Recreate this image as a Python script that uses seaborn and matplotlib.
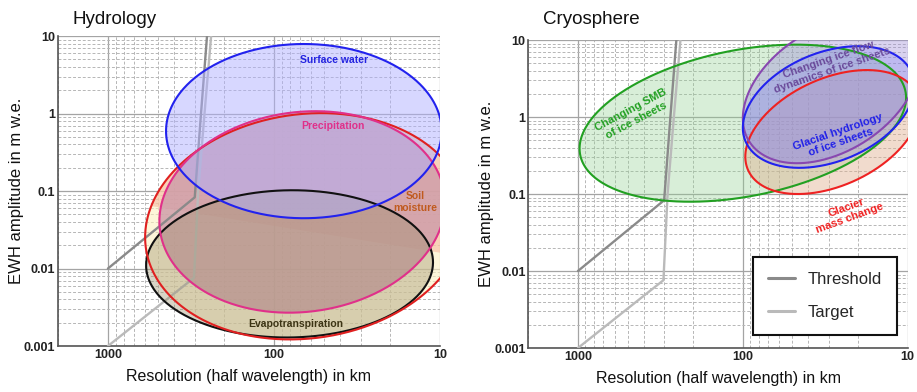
import numpy as np
import pandas as pd
import matplotlib
matplotlib.use("Agg")
import matplotlib.pyplot as plt
import seaborn as sns
from matplotlib.ticker import LogLocator, NullFormatter, FixedLocator, FixedFormatter
from matplotlib.patches import Polygon

# ---------------- data ----------------
x_ticks = [1000, 100, 10]
x_tick_labels = ["1000", "100", "10"]
y_ticks = [0.001, 0.01, 0.1, 1, 10]
y_tick_labels = ["0.001", "0.01", "0.1", "1", "10"]

threshold_x = [1000, 300, 275, 253]
threshold_y = [0.01, 0.083, 1, 10]
target_x = [1000, 303, 286, 262, 239]
target_y = [0.001, 0.0076, 0.1, 1, 10]

# ellipses in log10 space: [centre log x, centre log y, offset to right vertex (dx, dy), vertical half-extent]
surface_water = [1.82, -0.227, -0.83, 0.0, 1.124]
precipitation = [1.83, -1.27, -0.86, 0.12, 1.30]
soil_moisture = [1.81, -1.455, -0.966, 0.142, 1.46]
evapotranspiration = [1.906, -1.94, -0.864, 0.02, 0.95]
soil_split_x = [2000, 10]
soil_split_y = [0.1, 0.016]

smb_ice_sheets = [2.0, -0.08, -0.99, 0.33, 1.02]
ice_flow = [1.465, 0.35, -0.535, 0.367, 0.95]
glacial_hydrology = [1.48, 0.13, -0.52, 0.27, 0.79]
glacier_mass = [1.457, -0.195, -0.528, 0.32, 0.805]

# label positions (data coords)
hydro_labels = [
    ("Surface water", 43.6, 4.9, "#2424e0", 0),
    ("Precipitation", 44, 0.69, "#e0308a", 0),
    ("Soil\nmoisture", 14, 0.072, "#c05a1e", 0),
    ("Evapotranspiration", 74, 0.0019, "#3c3414", 0),
]
cryo_labels = [
    ("Changing SMB\nof ice sheets", 460, 1.06, "#22a022", 28),
    ("Changing ice flow\ndynamics of ice sheets", 29.5, 4.7, "#6a4a9a", 19),
    ("Glacial hydrology\nof ice sheets", 25.9, 0.55, "#2020e8", 19),
    ("Glacier\nmass change", 23, 0.057, "#f02020", 20),
]

# ---------------- style ----------------
sns.set_theme(style="white")
plt.rcParams["font.family"] = ["Liberation Sans", "DejaVu Sans"]

fig = plt.figure(figsize=(9.17, 3.92), dpi=100)
ax1 = fig.add_axes([0.0632, 0.1173, 0.4166, 0.7908])
ax2 = fig.add_axes([0.5761, 0.1122, 0.4138, 0.7857])


def ellipse_xy(p, n=500):
    cx, cy, dx, dy, T = p
    t = np.linspace(0, 2 * np.pi, n)
    h = np.sqrt(T ** 2 - dy ** 2)
    lx = cx + np.cos(t) * dx
    ly = cy + np.cos(t) * dy + np.sin(t) * h
    return 10 ** lx, 10 ** ly


def setup(ax):
    ax.set_xscale("log")
    ax.set_yscale("log")
    ax.set_xlim(2000, 10)
    ax.set_ylim(0.001, 10)
    ax.xaxis.set_major_locator(FixedLocator(x_ticks))
    ax.xaxis.set_major_formatter(FixedFormatter(x_tick_labels))
    ax.yaxis.set_major_locator(FixedLocator(y_ticks))
    ax.yaxis.set_major_formatter(FixedFormatter(y_tick_labels))
    ax.xaxis.set_minor_locator(LogLocator(base=10, subs=np.arange(2, 10)))
    ax.yaxis.set_minor_locator(LogLocator(base=10, subs=np.arange(2, 10)))
    ax.xaxis.set_minor_formatter(NullFormatter())
    ax.yaxis.set_minor_formatter(NullFormatter())
    ax.set_axisbelow(True)
    ax.grid(which="major", color="#a4a4a4", lw=0.9, ls="-")
    ax.grid(which="minor", color="#b6b6b6", lw=0.7, ls=(0, (3, 2)))
    ax.tick_params(which="both", length=0, pad=2)
    for lab in ax.get_xticklabels() + ax.get_yticklabels():
        lab.set_fontsize(9)
        lab.set_fontweight("bold")
        lab.set_color("#222222")
    for s in ["top", "right"]:
        ax.spines[s].set_visible(False)
    for s in ["left", "bottom"]:
        ax.spines[s].set_color("#555555")
        ax.spines[s].set_linewidth(1.2)
    ax.set_xlabel("Resolution (half wavelength) in km", fontsize=11.5, labelpad=6, color="#111111")
    ax.set_ylabel("EWH amplitude in m w.e.", fontsize=12, labelpad=0, color="#111111")


def lines(ax, legend):
    df_t = pd.DataFrame({"x": threshold_x, "y": threshold_y})
    df_g = pd.DataFrame({"x": target_x, "y": target_y})
    sns.lineplot(data=df_t, x="x", y="y", ax=ax, color="#8a8a8a", lw=1.7, sort=False,
                 estimator=None, label="Threshold" if legend else None, legend=legend, zorder=4.5)
    sns.lineplot(data=df_g, x="x", y="y", ax=ax, color="#bababa", lw=1.7, sort=False,
                 estimator=None, label="Target" if legend else None, legend=legend, zorder=4.5)


# ---------------- Hydrology ----------------
setup(ax1)
lines(ax1, False)

sx, sy = ellipse_xy(soil_moisture)
ax1.fill(sx, sy, color="#fdf0c0", alpha=0.6, lw=0, zorder=3)
split_poly = ax1.fill(soil_split_x + [10, 2000], soil_split_y + [10, 10],
                      color="#f4a890", alpha=0.45, lw=0, zorder=3)[0]
clip = Polygon(np.column_stack([sx, sy]), transform=ax1.transData)
split_poly.set_clip_path(clip)

px, py = ellipse_xy(precipitation)
ax1.fill(px, py, color="#cd9aa8", alpha=0.8, lw=0, zorder=4)
ex, ey = ellipse_xy(evapotranspiration)
ax1.fill(ex, ey, color="#9a8f6a", alpha=0.38, lw=0, zorder=5)
bx, by = ellipse_xy(surface_water)
ax1.fill(bx, by, color="#b0b0ff", alpha=0.5, lw=0, zorder=6)

ax1.plot(ex, ey, color="#111111", lw=1.5, zorder=7)
ax1.plot(sx, sy, color="#e02020", lw=1.5, zorder=7)
ax1.plot(px, py, color="#e0308a", lw=1.5, zorder=7)
ax1.plot(bx, by, color="#2222ee", lw=1.5, zorder=7)

for txt, x, y, c, r in hydro_labels:
    ax1.text(x, y, txt, color=c, fontsize=7.5, fontweight="bold", ha="center", va="center",
             rotation=r, zorder=9, linespacing=1.2)

# ---------------- Cryosphere ----------------
setup(ax2)
lines(ax2, True)

gx, gy = ellipse_xy(smb_ice_sheets)
ax2.fill(gx, gy, color="#90d090", alpha=0.35, lw=0, zorder=3)
rx, ry = ellipse_xy(glacier_mass)
ax2.fill(rx, ry, color="#e0b090", alpha=0.45, lw=0, zorder=4)
ux, uy = ellipse_xy(ice_flow)
ax2.fill(ux, uy, color="#a090d8", alpha=0.4, lw=0, zorder=5)
hx, hy = ellipse_xy(glacial_hydrology)
ax2.fill(hx, hy, color="#8080f0", alpha=0.3, lw=0, zorder=6)

ax2.plot(gx, gy, color="#22a022", lw=1.5, zorder=7)
ax2.plot(rx, ry, color="#ee2222", lw=1.5, zorder=7)
ax2.plot(ux, uy, color="#8848b0", lw=1.5, zorder=7)
ax2.plot(hx, hy, color="#2222ee", lw=1.5, zorder=7)

for txt, x, y, c, r in cryo_labels:
    ax2.text(x, y, txt, color=c, fontsize=8, fontweight="bold", ha="center", va="center",
             rotation=r, zorder=9, linespacing=1.15, rotation_mode="anchor")

leg = ax2.legend(loc="lower right", bbox_to_anchor=(0.972, 0.042), fontsize=12,
                 frameon=True, fancybox=False, edgecolor="#111111", framealpha=1,
                 handlelength=1.6, handletextpad=0.8, labelspacing=1.1, borderpad=0.9,
                 borderaxespad=0)
leg.get_frame().set_linewidth(1.5)
leg.set_zorder(10)
for line in leg.get_lines():
    line.set_linewidth(2.2)

# titles
fig.text(72 / 917, 1 - 20 / 392, "Hydrology", fontsize=13.5, ha="left", va="center", color="#111111")
fig.text(543 / 917, 1 - 20 / 392, "Cryosphere", fontsize=13.5, ha="left", va="center", color="#111111")

fig.savefig("out.png", dpi=100)
